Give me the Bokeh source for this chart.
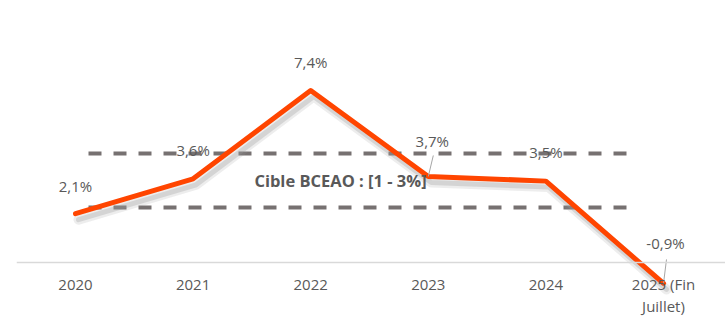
from bokeh.plotting import figure
from bokeh.models import Range1d, FixedTicker, ColumnDataSource, Label
from bokeh.embed import file_html
from bokeh.resources import INLINE
from bokeh.core.properties import value

# ---- data ----
years = ["2020", "2021", "2022", "2023", "2024", "2025 (Fin\nJuillet)"]
inflation = [2.1, 3.6, 7.4, 3.7, 3.5, -0.9]
value_labels = ["2,1%", "3,6%", "7,4%", "3,7%", "3,5%", "-0,9%"]
target_low = 1
target_high = 3
target_text = "Cible BCEAO : [1 - 3%]"

# ---- layout constants (pixels) ----
W, H = 725, 318
PX_X = 117.6   # px per category
PX_Y = 23.25   # px per % point (main axis)
PX_T = 27.0    # px per % point (target band axis)
FONT = "Open Sans"
GREY_TXT = "#595959"
LEFT = 16      # frame left edge
ZERO_Y = 262   # pixel row of y = 0
LOW_Y = 207    # pixel row of target_low

x_start = -(75 - LEFT) / PX_X
x_end = x_start + (W - LEFT) / PX_X
y_start = -(H - ZERO_Y) / PX_Y
y_end = ZERO_Y / PX_Y
t_start = target_low - (H - LOW_Y) / PX_T
t_end = target_low + LOW_Y / PX_T

p = figure(width=W, height=H, output_backend="svg", toolbar_location=None,
           x_range=Range1d(x_start, x_end), y_range=Range1d(y_start, y_end),
           min_border_left=LEFT, min_border_right=0, min_border_top=0, min_border_bottom=0)
p.outline_line_color = None
p.background_fill_color = "white"
p.border_fill_color = "white"
p.grid.visible = False
p.yaxis.visible = False

# extra ranges: target band and shadow offsets
p.extra_y_ranges = {
    "target": Range1d(t_start, t_end),
    "shadow": Range1d(y_start + 6 / PX_Y, y_end + 6 / PX_Y),
}
p.extra_x_ranges = {"shadow": Range1d(x_start - 3 / PX_X, x_end - 3 / PX_X)}

xs = list(range(len(years)))
src = ColumnDataSource(dict(x=xs, y=inflation, lab=value_labels))

# target band dashed lines
bx0 = (88 - 75) / PX_X
bx1 = (632 - 75) / PX_X
for lvl in (target_low, target_high):
    p.line([bx0, bx1], [lvl, lvl], y_range_name="target", line_color="#767171",
           line_width=4, line_dash="13 12")

p.add_layout(Label(x=(340 - 75) / PX_X, y=(target_low + target_high) / 2, y_range_name="target",
                   text=target_text, text_font=FONT, text_font_size="16.5px",
                   text_font_style="bold", text_color=GREY_TXT,
                   text_align="center", text_baseline="middle"))

# shadow of the main line
p.line("x", "y", source=src, x_range_name="shadow", y_range_name="shadow",
       line_color="#9a9a9a", line_alpha=0.18, line_width=10, line_join="round", line_cap="round")
p.line("x", "y", source=src, x_range_name="shadow", y_range_name="shadow",
       line_color="#9a9a9a", line_alpha=0.3, line_width=5, line_join="round", line_cap="round")

# main line
p.line("x", "y", source=src, line_color="#FF4500", line_width=5,
       line_join="round", line_cap="round")

# value labels
x_off = [0, 0, 0, 4, 0, 2]
y_off = [-28, -29, -28, -35, -29, -40]
for i in xs:
    p.text([xs[i]], [inflation[i]], text=[value_labels[i]], x_offset=x_off[i], y_offset=y_off[i],
           text_font=value(FONT), text_font_size="15px", text_color=GREY_TXT,
           text_align="center", text_baseline="middle")

# leader lines for 2023 and 2025
p.segment(x0=[3 + 5 / PX_X, 5 + 3 / PX_X], y0=[inflation[3] + 21 / PX_Y, inflation[5] + 24 / PX_Y],
          x1=[3, 5], y1=[inflation[3], inflation[5]], line_color="#a6a6a6", line_width=1)

# x axis at y = 0
ax = p.xaxis[0]
ax.fixed_location = 0
ax.ticker = FixedTicker(ticks=xs)
ax.major_label_overrides = {i: years[i] for i in xs}
ax.axis_line_color = "#d9d9d9"
ax.axis_line_width = 1.5
ax.major_tick_line_color = None
ax.minor_tick_line_color = None
ax.major_label_text_font = FONT
ax.major_label_text_font_size = "15px"
ax.major_label_text_color = GREY_TXT
ax.major_label_standoff = 5
ax.major_label_text_line_height = 1.1

open("out.html", "w").write(file_html(p, INLINE))
